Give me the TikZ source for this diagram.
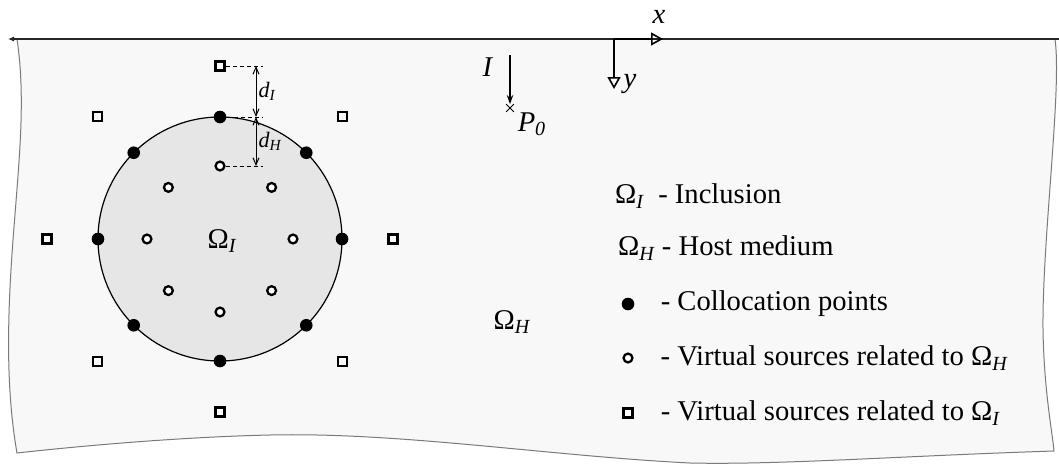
\documentclass[tikz,border=0pt]{standalone}
\usepackage{fontspec}
\setmainfont{Liberation Serif}
\usetikzlibrary{arrows.meta,positioning,shapes.misc}

\definecolor{regfill}{HTML}{F8F8F8}
\definecolor{incfill}{HTML}{E6E6E6}
\definecolor{edgegray}{HTML}{7A7A7A}

\newcommand{\omsub}[1]{Ω\textsubscript{\itshape #1}}

\begin{document}
\begin{tikzpicture}[
    x=0.5pt, y=-0.5pt,
    font=\fontsize{14.3pt}{17pt}\selectfont,
    colpt/.style={circle,fill=black,inner sep=0pt,minimum size=6.3pt},
    hsrc/.style={circle,draw=black,fill=white,line width=1.15pt,inner sep=0pt,minimum size=4.4pt},
    isrc/.style={rectangle,draw=black,fill=white,line width=1.15pt,inner sep=0pt,minimum size=4.6pt},
    dimline/.style={line width=0.4pt,dash pattern=on 2pt off 1.5pt},
    dimarrow/.style={{Straight Barb[length=3.5pt,width=3pt]}-{Straight Barb[length=3.5pt,width=3pt]},line width=0.5pt},
    axis/.style={-{Triangle[open,length=6pt,width=6.5pt,line width=0.8pt]},line width=0.8pt},
    small/.style={font=\fontsize{11pt}{13pt}\selectfont,inner sep=1pt}
  ]
    \useasboundingbox (0,0) rectangle (1059,466);

    % half space
    \filldraw[fill=regfill,draw=edgegray,line width=0.5pt]
      (17,39) -- (1055,39)
      .. controls (1062,90) and (1042,240) .. (1043,330)
      .. controls (1044,390) and (1052,430) .. (1054,451)
      .. controls (900,456) and (780,465) .. (690,463)
      .. controls (550,456) and (400,432) .. (270,435)
      .. controls (180,437) and (80,446) .. (17,453)
      .. controls (6,390) and (7,320) .. (13,240)
      .. controls (19,160) and (26,100) .. (17,39) -- cycle;

    \coordinate (surfR) at (1059,39);
    \coordinate (surfL) at (8,39);
    \draw[line width=0.7pt,black!85,-{Latex[length=3pt,width=2.6pt]}] (surfR) -- (surfL);

    % inclusion
    \node[circle,draw,fill=incfill,line width=0.6pt,minimum size=122pt,inner sep=0pt,outer sep=0pt] (incl) at (220,239) {};
    \node (omI) at (222,241) {\omsub{I}};

    \foreach \a in {0,45,...,315} {
      \node[colpt] (c\a) at (incl.\a) {};
      \node[hsrc] (hs\a) at ([shift={(\a:36.5pt)}]incl.center) {};
      \node[isrc] (is\a) at ([shift={(\a:86.5pt)}]incl.center) {};
    }

    % distances
    \coordinate (dimx) at (256,0);
    \coordinate (dimend) at (263,0);
    \draw[dimline] (is90.east) -- (is90 -| dimend);
    \draw[dimline] (c90.east) -- (c90 -| dimend);
    \draw[dimline] (hs90.east) -- (hs90 -| dimend);
    \draw[dimarrow] (is90 -| dimx) -- node[small,right] {\textit{d}\textsubscript{\itshape I}} (c90 -| dimx);
    \draw[dimarrow] (c90 -| dimx) -- node[small,right] {\textit{d}\textsubscript{\itshape H}} (hs90 -| dimx);

    % source
    \node (Ilab) at (488,67) {\textit{I}};
    \coordinate (Itop) at (510,55);
    \node[cross out,draw,minimum size=3.5pt,inner sep=0pt,line width=0.4pt] (P0) at (510,108) {};
    \node (P0lab) at (532,124) {\textit{P}\textsubscript{\itshape 0}};
    \draw[line width=0.6pt,-{Stealth[length=4.5pt,width=3.2pt]}] (Itop) -- (P0.north);

    % axes
    \coordinate (O) at (614,39);
    \coordinate (xend) at (663,39);
    \coordinate (yend) at (614,89);
    \draw[axis] (O) -- (xend);
    \draw[axis] (O) -- (yend);
    \node (xlab) at (659,17) {\textit{x}};
    \node (ylab) at (630,84) {\textit{y}};

    \node (omH) at (512,322) {\omsub{H}};

    % legend
    \node[anchor=west] (legI) at (608,196) {\omsub{I}\ \ - Inclusion};
    \node[anchor=west] (legH) at (611,248) {\omsub{H} - Host medium};
    \node[colpt] (legc) at (628,304) {};
    \node[right=9.5pt of legc] (legct) {- Collocation points};
    \node[hsrc] (legh) at (628,358) {};
    \node[right=10pt of legh] (leght) {- Virtual sources related to \omsub{H}};
    \node[isrc] (legi) at (628,413) {};
    \node[right=10pt of legi] (legit) {- Virtual sources related to \omsub{I}};
  \end{tikzpicture}
\end{document}
